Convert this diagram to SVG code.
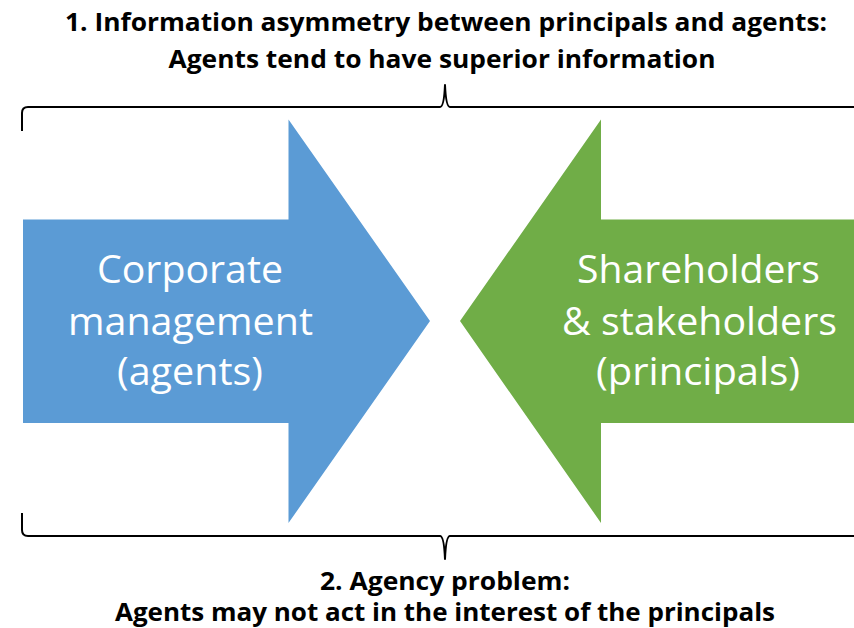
<svg xmlns="http://www.w3.org/2000/svg" width="854" height="628" viewBox="0 0 854 628">
  <style>
    .caption { font-family: "Open Sans", "Liberation Sans", sans-serif; font-weight: 700; font-size: 25px; fill: #000; text-anchor: middle; }
    .label { font-family: "Open Sans", "Liberation Sans", sans-serif; font-weight: 400; font-size: 39px; fill: #fff; text-anchor: middle; }
    .brace { fill: none; stroke: #000; stroke-width: 2; stroke-linejoin: round; }
  </style>
  <rect width="854" height="628" fill="#fff"/>

  <!-- captions above and below -->
  <g id="caption-top">
    <text class="caption" x="446" y="31" textLength="762" lengthAdjust="spacingAndGlyphs">1.  Information asymmetry between principals and agents:</text>
    <text class="caption" x="442" y="68" textLength="547" lengthAdjust="spacingAndGlyphs">Agents tend to have superior information</text>
  </g>
  <g id="caption-bottom">
    <text class="caption" x="445" y="590" textLength="250" lengthAdjust="spacingAndGlyphs">2. Agency problem:</text>
    <text class="caption" x="445" y="621" textLength="660" lengthAdjust="spacingAndGlyphs">Agents may not act in the interest of the principals</text>
  </g>

  <!-- curly braces -->
  <g id="braces">
    <path class="brace" d="M22,131 L22,113 Q22,107 28,107 L440,107 Q444,107 445,85 Q446,107 450,107 L856,107"/>
    <path class="brace" d="M22,513 L22,530 Q22,536 28,536 L440,536 Q444,536 445,559 Q446,536 450,536 L856,536"/>
  </g>

  <!-- agents arrow -->
  <g id="agents">
    <polygon points="23,219.5 288.5,219.5 288.5,119.5 430,321 288.5,523 288.5,423 23,423" fill="#5B9BD5"/>
    <text class="label" x="190" y="283" textLength="186" lengthAdjust="spacingAndGlyphs">Corporate</text>
    <text class="label" x="190.5" y="335" textLength="245" lengthAdjust="spacingAndGlyphs">management</text>
    <text class="label" x="190" y="385" textLength="146" lengthAdjust="spacingAndGlyphs">(agents)</text>
  </g>

  <!-- principals arrow -->
  <g id="principals">
    <polygon points="856,219.5 601,219.5 601,119.5 460,321 601,523 601,423 856,423" fill="#70AD47"/>
    <text class="label" x="698.5" y="283" textLength="243" lengthAdjust="spacingAndGlyphs">Shareholders</text>
    <text class="label" x="699.5" y="335" textLength="275" lengthAdjust="spacingAndGlyphs">&amp; stakeholders</text>
    <text class="label" x="698" y="385" textLength="204" lengthAdjust="spacingAndGlyphs">(principals)</text>
  </g>
</svg>
